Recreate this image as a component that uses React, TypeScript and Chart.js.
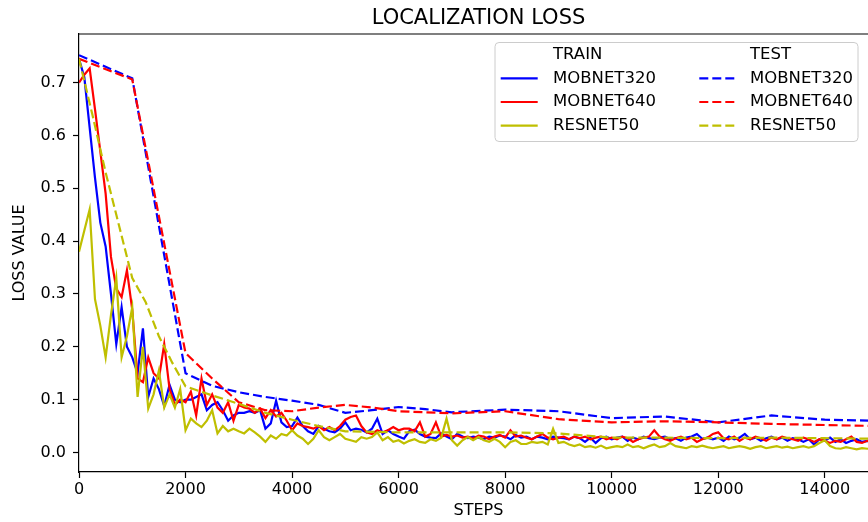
import React, { useEffect, useRef } from "react";
import { Chart, registerables } from "chart.js";

Chart.register(...registerables);

// ---------- DATA ----------
const TITLE = "LOCALIZATION LOSS";
const X_LABEL = "STEPS";
const Y_LABEL = "LOSS VALUE";
const LEGEND_HEADERS = ["TRAIN", "TEST"];
const MODEL_NAMES = ["MOBNET320", "MOBNET640", "RESNET50"];

const X_MIN = 0;
const X_MAX = 15000;
const X_TICKS = [0, 2000, 4000, 6000, 8000, 10000, 12000, 14000];
const Y_MIN = -0.037;
const Y_MAX = 0.792;
const Y_TICKS = [0.0, 0.1, 0.2, 0.3, 0.4, 0.5, 0.6, 0.7];

// training steps (one sample every 100 steps)
const TRAIN_STEPS: number[] = Array.from({ length: 151 }, (_, i) => i * 100);

const TRAIN_MOBNET320 = [
  0.745, 0.71, 0.615, 0.52, 0.435, 0.39, 0.3, 0.205, 0.275, 0.2,
  0.18, 0.15, 0.235, 0.105, 0.14, 0.12, 0.088, 0.128, 0.1, 0.095,
  0.1, 0.1, 0.105, 0.11, 0.08, 0.09, 0.095, 0.08, 0.06, 0.07,
  0.075, 0.075, 0.078, 0.075, 0.08, 0.045, 0.055, 0.098, 0.057, 0.048,
  0.05, 0.066, 0.05, 0.04, 0.035, 0.05, 0.045, 0.04, 0.038, 0.045,
  0.057, 0.042, 0.045, 0.043, 0.038, 0.045, 0.064, 0.035, 0.042, 0.035,
  0.03, 0.026, 0.04, 0.043, 0.035, 0.03, 0.028, 0.027, 0.036, 0.03,
  0.025, 0.035, 0.03, 0.027, 0.03, 0.028, 0.025, 0.03, 0.028, 0.032,
  0.03, 0.025, 0.033, 0.028, 0.03, 0.025, 0.03, 0.028, 0.025, 0.03,
  0.028, 0.027, 0.025, 0.03, 0.027, 0.02, 0.028, 0.018, 0.027, 0.03,
  0.025, 0.028, 0.03, 0.022, 0.028, 0.025, 0.03, 0.027, 0.025, 0.028,
  0.03, 0.025, 0.027, 0.022, 0.028, 0.03, 0.035, 0.026, 0.028, 0.025,
  0.028, 0.022, 0.03, 0.025, 0.028, 0.035, 0.025, 0.028, 0.022, 0.027,
  0.03, 0.025, 0.028, 0.022, 0.027, 0.025, 0.02, 0.025, 0.015, 0.025,
  0.022, 0.028, 0.02, 0.025, 0.018, 0.022, 0.025, 0.02, 0.022, 0.02,
  0.02,
];

const TRAIN_MOBNET640 = [
  0.7, 0.715, 0.727, 0.65, 0.57, 0.49, 0.37, 0.31, 0.294, 0.345,
  0.27, 0.14, 0.133, 0.18, 0.15, 0.14, 0.205, 0.12, 0.09, 0.1,
  0.095, 0.115, 0.07, 0.14, 0.09, 0.11, 0.085, 0.075, 0.095, 0.06,
  0.09, 0.085, 0.083, 0.075, 0.083, 0.065, 0.08, 0.068, 0.075, 0.06,
  0.042, 0.055, 0.05, 0.048, 0.045, 0.05, 0.042, 0.048, 0.042, 0.05,
  0.062, 0.067, 0.07, 0.05, 0.038, 0.035, 0.042, 0.038, 0.042, 0.048,
  0.042, 0.045, 0.045, 0.04, 0.057, 0.03, 0.035, 0.057, 0.03, 0.033,
  0.03, 0.032, 0.028, 0.03, 0.026, 0.032, 0.03, 0.025, 0.03, 0.033,
  0.028, 0.042, 0.03, 0.032, 0.028, 0.025, 0.03, 0.035, 0.028, 0.025,
  0.028, 0.03, 0.025, 0.03, 0.027, 0.03, 0.025, 0.028, 0.03, 0.025,
  0.028, 0.025, 0.03, 0.027, 0.02, 0.025, 0.028, 0.03, 0.042, 0.03,
  0.025, 0.022, 0.027, 0.03, 0.025, 0.028, 0.02, 0.025, 0.028, 0.035,
  0.038, 0.027, 0.025, 0.03, 0.022, 0.028, 0.025, 0.03, 0.027, 0.022,
  0.028, 0.025, 0.03, 0.027, 0.025, 0.022, 0.028, 0.025, 0.02, 0.025,
  0.022, 0.018, 0.022, 0.02, 0.025, 0.03, 0.02, 0.018, 0.022, 0.02,
  0.02,
];

const TRAIN_RESNET50 = [
  0.38, 0.42, 0.46, 0.29, 0.24, 0.18, 0.26, 0.33, 0.18, 0.22,
  0.275, 0.105, 0.2, 0.083, 0.11, 0.155, 0.085, 0.11, 0.085, 0.12,
  0.042, 0.064, 0.055, 0.048, 0.06, 0.08, 0.036, 0.05, 0.04, 0.045,
  0.04, 0.036, 0.045, 0.038, 0.03, 0.02, 0.032, 0.026, 0.035, 0.032,
  0.042, 0.032, 0.026, 0.016, 0.026, 0.042, 0.029, 0.023, 0.029, 0.035,
  0.026, 0.023, 0.02, 0.029, 0.026, 0.029, 0.038, 0.023, 0.029, 0.02,
  0.023, 0.017, 0.022, 0.025, 0.02, 0.018, 0.025, 0.022, 0.028, 0.064,
  0.023, 0.013, 0.023, 0.029, 0.023, 0.029, 0.023, 0.02, 0.026, 0.02,
  0.01, 0.02, 0.023, 0.016, 0.016, 0.02, 0.018, 0.02, 0.015, 0.045,
  0.018, 0.02, 0.015, 0.012, 0.015, 0.01, 0.012, 0.009, 0.013, 0.008,
  0.01, 0.012, 0.01, 0.015, 0.01, 0.012, 0.008, 0.012, 0.015, 0.01,
  0.012, 0.018, 0.012, 0.01, 0.008, 0.012, 0.01, 0.013, 0.01, 0.008,
  0.01, 0.012, 0.008, 0.01, 0.012, 0.01, 0.007, 0.01, 0.012, 0.008,
  0.01, 0.012, 0.009, 0.011, 0.008, 0.01, 0.012, 0.009, 0.012, 0.018,
  0.023, 0.012, 0.008, 0.007, 0.01, 0.008, 0.006, 0.008, 0.007, 0.008,
  0.008,
];

// test evaluations
const TEST_STEPS_MOBNET320 = [0, 1000, 2000, 2500, 3000, 3500, 4000, 4500, 5000, 5500, 6000, 6500, 7000, 8000, 9000, 10000, 11000, 12000, 13000, 14000, 15000];
const TEST_MOBNET320 = [0.752, 0.708, 0.15, 0.126, 0.114, 0.105, 0.098, 0.09, 0.075, 0.08, 0.086, 0.082, 0.076, 0.081, 0.078, 0.065, 0.068, 0.057, 0.07, 0.062, 0.06];

const TEST_STEPS_MOBNET640 = [0, 1000, 2000, 2500, 3000, 3500, 4000, 4500, 5000, 5500, 6000, 7000, 8000, 9000, 10000, 11000, 12000, 13000, 14000, 15000];
const TEST_MOBNET640 = [0.745, 0.706, 0.188, 0.14, 0.095, 0.08, 0.078, 0.085, 0.09, 0.085, 0.078, 0.074, 0.078, 0.063, 0.057, 0.059, 0.057, 0.054, 0.052, 0.05];

const TEST_STEPS_RESNET50 = [0, 250, 500, 750, 1000, 1250, 1500, 1750, 2000, 2500, 3000, 3500, 4000, 4500, 5000, 6000, 7000, 8000, 9000, 10000, 11000, 12000, 13000, 14000, 15000];
const TEST_RESNET50 = [0.745, 0.64, 0.53, 0.43, 0.33, 0.285, 0.22, 0.17, 0.125, 0.108, 0.092, 0.075, 0.062, 0.05, 0.04, 0.038, 0.038, 0.038, 0.036, 0.028, 0.028, 0.027, 0.028, 0.027, 0.026];

// ---------- STYLE ----------
const COLORS = ["#0000ff", "#ff0000", "#bfbf00"];
const FONT = "'DejaVu Sans', sans-serif";
const LINE_W = 2.2;
const DASH = [9, 4];

const toPoints = (xs: number[], ys: number[]) => xs.map((x, i) => ({ x, y: ys[i] }));

const topSpinePlugin = {
  id: "topSpine",
  afterDraw(chart: any) {
    const { ctx, chartArea } = chart;
    ctx.save();
    ctx.strokeStyle = "#000";
    ctx.lineWidth = 1.2;
    ctx.beginPath();
    ctx.moveTo(chartArea.left, chartArea.top);
    ctx.lineTo(chartArea.right, chartArea.top);
    ctx.stroke();
    ctx.restore();
  },
};

const mplLegendPlugin = {
  id: "mplLegend",
  afterDraw(chart: any) {
    const { ctx, chartArea } = chart;
    const ds = chart.data.datasets;
    const bx = chartArea.left + 416;
    const by = chartArea.top + 8.5;
    const bw = 363;
    const bh = 99;
    ctx.save();
    ctx.beginPath();
    const r = 4;
    ctx.moveTo(bx + r, by);
    ctx.lineTo(bx + bw - r, by);
    ctx.arcTo(bx + bw, by, bx + bw, by + r, r);
    ctx.lineTo(bx + bw, by + bh - r);
    ctx.arcTo(bx + bw, by + bh, bx + bw - r, by + bh, r);
    ctx.lineTo(bx + r, by + bh);
    ctx.arcTo(bx, by + bh, bx, by + bh - r, r);
    ctx.lineTo(bx, by + r);
    ctx.arcTo(bx, by, bx + r, by, r);
    ctx.closePath();
    ctx.fillStyle = "rgba(255,255,255,0.8)";
    ctx.fill();
    ctx.strokeStyle = "#cccccc";
    ctx.lineWidth = 1;
    ctx.stroke();

    ctx.font = `16.5px ${FONT}`;
    ctx.textBaseline = "middle";
    ctx.textAlign = "left";
    ctx.fillStyle = "#000";
    const cols = [
      { hx: bx + 5.7, tx: bx + 58 },
      { hx: bx + 204.3, tx: bx + 255 },
    ];
    const rowY = (i: number) => by + 12.3 + i * 23.6;
    cols.forEach((c, ci) => {
      ctx.fillStyle = "#000";
      ctx.fillText(LEGEND_HEADERS[ci], c.tx, rowY(0));
      for (let k = 0; k < 3; k++) {
        const d = ds[ci * 3 + k];
        const y = rowY(k + 1);
        ctx.strokeStyle = d.borderColor;
        ctx.lineWidth = d.borderWidth;
        ctx.setLineDash(d.borderDash || []);
        ctx.beginPath();
        ctx.moveTo(c.hx, y);
        ctx.lineTo(c.hx + 37, y);
        ctx.stroke();
        ctx.setLineDash([]);
        ctx.fillStyle = "#000";
        ctx.fillText(d.label, c.tx, y);
      }
    });
    ctx.restore();
  },
};

export default function App() {
  const ref = useRef<HTMLCanvasElement | null>(null);

  useEffect(() => {
    if (!ref.current) return;
    Chart.defaults.font.family = FONT;
    Chart.defaults.color = "#000";

    const trainSeries = [TRAIN_MOBNET320, TRAIN_MOBNET640, TRAIN_RESNET50];
    const testSeries = [
      toPoints(TEST_STEPS_MOBNET320, TEST_MOBNET320),
      toPoints(TEST_STEPS_MOBNET640, TEST_MOBNET640),
      toPoints(TEST_STEPS_RESNET50, TEST_RESNET50),
    ];

    const datasets: any[] = [];
    trainSeries.forEach((vals, i) => {
      datasets.push({
        label: MODEL_NAMES[i],
        data: toPoints(TRAIN_STEPS, vals),
        borderColor: COLORS[i],
        backgroundColor: COLORS[i],
        borderWidth: LINE_W,
        pointRadius: 0,
        tension: 0,
        fill: false,
      });
    });
    testSeries.forEach((pts, i) => {
      datasets.push({
        label: MODEL_NAMES[i],
        data: pts,
        borderColor: COLORS[i],
        backgroundColor: COLORS[i],
        borderWidth: LINE_W,
        borderDash: DASH,
        pointRadius: 0,
        tension: 0,
        fill: false,
      });
    });
    datasets.forEach((d, i) => (d.order = 20 - i));

    const chart = new Chart(ref.current, {
      type: "line",
      data: { datasets },
      options: {
        animation: false,
        responsive: false,
        maintainAspectRatio: false,
        layout: { padding: 0 },
        plugins: {
          legend: { display: false },
          tooltip: { enabled: false },
          title: {
            display: true,
            text: TITLE,
            color: "#000",
            font: { family: FONT, size: 21, weight: "normal" },
            padding: { top: 5.7, bottom: 3.1 },
          },
        },
        scales: {
          x: {
            type: "linear",
            min: X_MIN,
            max: X_MAX,
            position: "bottom",
            border: { display: true, color: "#000", width: 1.2 },
            grid: { drawOnChartArea: false, drawTicks: true, tickLength: 6, tickColor: "#000", tickWidth: 1.2 },
            afterBuildTicks: (s: any) => {
              s.ticks = X_TICKS.map((v) => ({ value: v }));
            },
            ticks: {
              maxRotation: 0,
              autoSkip: false,
              padding: 2,
              color: "#000",
              font: { family: FONT, size: 16 },
              callback: (v: any) => String(v),
            },
            title: {
              display: true,
              text: X_LABEL,
              color: "#000",
              font: { family: FONT, size: 16 },
              padding: { top: 0, bottom: 1.9 },
            },
            afterFit: (s: any) => {
              s.height = 50;
            },
          },
          y: {
            type: "linear",
            min: Y_MIN,
            max: Y_MAX,
            position: "left",
            border: { display: true, color: "#000", width: 1.2 },
            grid: { drawOnChartArea: false, drawTicks: true, tickLength: 6, tickColor: "#000", tickWidth: 1.2 },
            afterBuildTicks: (s: any) => {
              s.ticks = Y_TICKS.map((v) => ({ value: v }));
            },
            ticks: {
              autoSkip: false,
              padding: 7,
              color: "#000",
              font: { family: FONT, size: 16 },
              callback: (v: any) => Number(v).toFixed(1),
            },
            title: {
              display: true,
              text: Y_LABEL,
              color: "#000",
              font: { family: FONT, size: 16 },
              padding: { top: 10.4, bottom: 0 },
            },
            afterFit: (s: any) => {
              s.width = 79;
            },
          },
          yR: {
            type: "linear",
            position: "right",
            display: true,
            min: Y_MIN,
            max: Y_MAX,
            grid: { display: false, drawTicks: false },
            border: { display: false },
            ticks: { display: false },
            afterFit: (s: any) => {
              s.width = 79;
            },
          },
        },
      } as any,
      plugins: [topSpinePlugin, mplLegendPlugin],
    });
    return () => chart.destroy();
  }, []);

  return (
    <div
      style={{
        position: "absolute",
        left: 0,
        top: 0,
        width: 868,
        height: 522,
        overflow: "hidden",
        background: "#fff",
      }}
    >
      <canvas ref={ref} width={957} height={522} style={{ display: "block" }} />
    </div>
  );
}
